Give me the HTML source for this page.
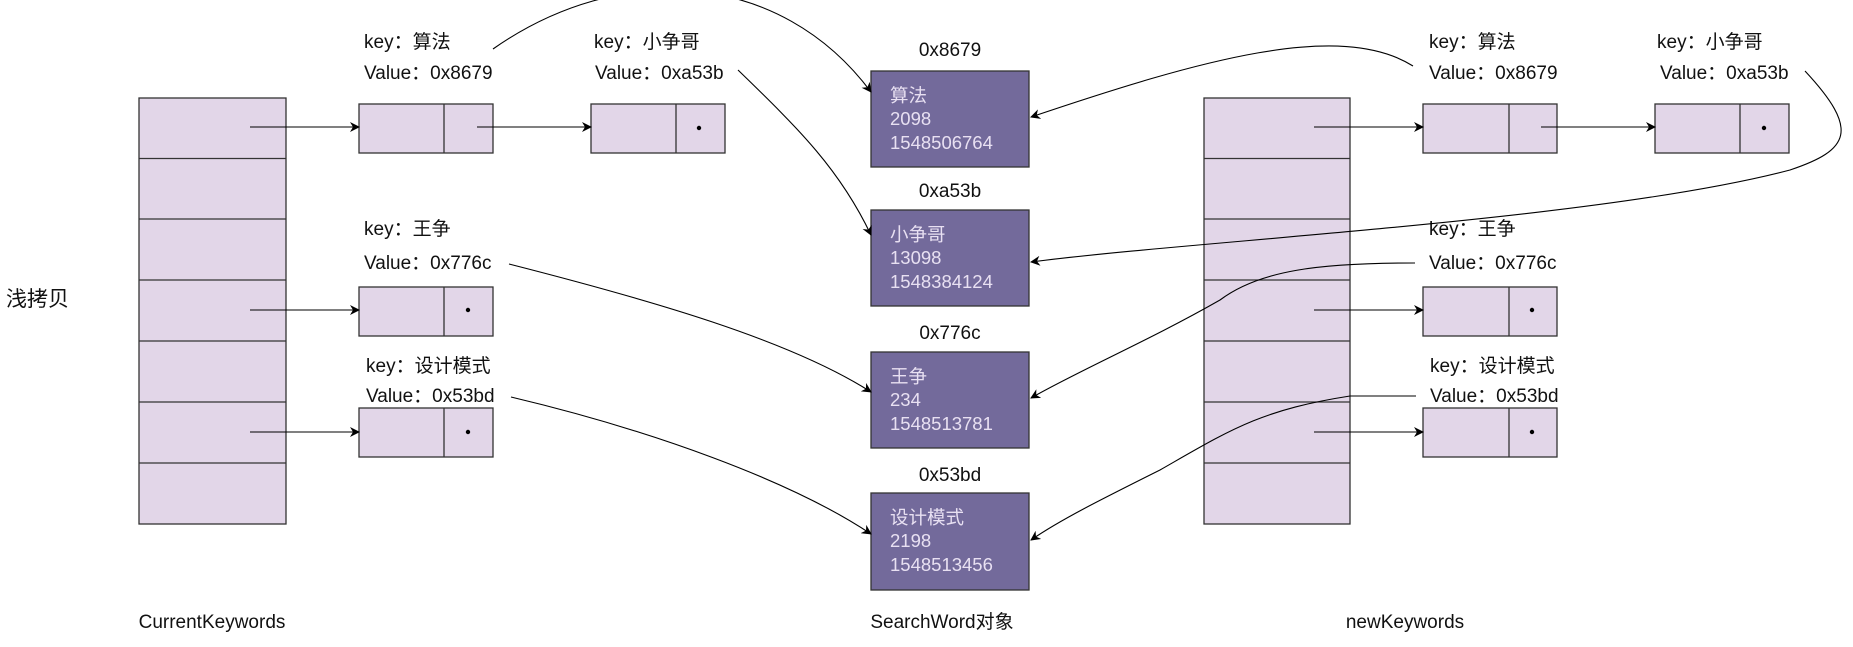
<!DOCTYPE html>
<html><head><meta charset="utf-8"><style>
html,body{margin:0;padding:0;background:#fff;}
svg{display:block;}
text{font-family:"Liberation Sans","Noto Sans CJK SC",sans-serif;font-size:19px;fill:#111;}
.w{fill:#e8e0f2;font-size:18.5px;}
</style></head><body>
<svg width="1853" height="647" viewBox="0 0 1853 647" xmlns="http://www.w3.org/2000/svg">
<defs><marker id="a" markerWidth="10" markerHeight="10" refX="9" refY="5" orient="auto" markerUnits="userSpaceOnUse"><path d="M0,0 L10,5 L0,10 L3,5 z" fill="#000"/></marker></defs>
<g fill="#e2d6e8" stroke="#333" stroke-width="1.3">
<rect x="139" y="98" width="147" height="426"/>
<rect x="1204" y="98" width="146" height="426"/>
<rect x="359" y="104" width="134" height="49"/><rect x="591" y="104" width="134" height="49"/>
<rect x="359" y="287" width="134" height="49"/><rect x="359" y="408" width="134" height="49"/>
<rect x="1423" y="104" width="134" height="49"/><rect x="1655" y="104" width="134" height="49"/>
<rect x="1423" y="287" width="134" height="49"/><rect x="1423" y="408" width="134" height="49"/>
</g>
<g stroke="#333" stroke-width="1.3">
<path d="M139 158.5H286M139 219H286M139 280H286M139 341H286M139 402H286M139 463H286"/>
<path d="M1204 158.5H1350M1204 219H1350M1204 280H1350M1204 341H1350M1204 402H1350M1204 463H1350"/>
<path d="M444 104V153M676 104V153M444 287V336M444 408V457M1509 104V153M1740 104V153M1509 287V336M1509 408V457"/>
</g>
<g fill="#000"><circle cx="699" cy="128" r="2.2"/><circle cx="468" cy="310" r="2.2"/><circle cx="468" cy="432" r="2.2"/><circle cx="1764" cy="128" r="2.2"/><circle cx="1532" cy="310" r="2.2"/><circle cx="1532" cy="432" r="2.2"/></g>
<g fill="#736a9b" stroke="#333" stroke-width="1.3">
<rect x="871" y="71" width="158" height="96"/><rect x="871" y="210" width="158" height="96"/>
<rect x="871" y="352" width="158" height="96"/><rect x="871" y="493" width="158" height="97"/>
</g>
<g>
<text class="w" x="890" y="102">算法</text><text class="w" x="890" y="125">2098</text><text class="w" x="890" y="149">1548506764</text>
<text class="w" x="890" y="241">小争哥</text><text class="w" x="890" y="264">13098</text><text class="w" x="890" y="288">1548384124</text>
<text class="w" x="890" y="383">王争</text><text class="w" x="890" y="406">234</text><text class="w" x="890" y="430">1548513781</text>
<text class="w" x="890" y="524">设计模式</text><text class="w" x="890" y="547">2198</text><text class="w" x="890" y="571">1548513456</text>
</g>
<g text-anchor="middle">
<text x="950" y="56">0x8679</text><text x="950" y="197">0xa53b</text><text x="950" y="339">0x776c</text><text x="950" y="481">0x53bd</text>
<text x="212" y="628">CurrentKeywords</text><text x="942" y="628">SearchWord对象</text><text x="1405" y="628">newKeywords</text>
</g>
<text x="6" y="306" style="font-size:21px">浅拷贝</text>
<text x="364" y="48">key：算法</text><text x="364" y="79">Value：0x8679</text>
<text x="594" y="48">key：小争哥</text><text x="595" y="79">Value：0xa53b</text>
<text x="364" y="235">key：王争</text><text x="364" y="269">Value：0x776c</text>
<text x="366" y="372">key：设计模式</text><text x="366" y="402">Value：0x53bd</text>
<text x="1429" y="48">key：算法</text><text x="1429" y="79">Value：0x8679</text>
<text x="1657" y="48">key：小争哥</text><text x="1660" y="79">Value：0xa53b</text>
<text x="1429" y="235">key：王争</text><text x="1429" y="269">Value：0x776c</text>
<text x="1430" y="372">key：设计模式</text><text x="1430" y="402">Value：0x53bd</text>
<g fill="none" stroke="#000" stroke-width="1.1" marker-end="url(#a)">
<path d="M250 127H359"/><path d="M477 127H591"/><path d="M250 310H359"/><path d="M250 432H359"/>
<path d="M1314 127H1423"/><path d="M1541 127H1655"/><path d="M1314 310H1423"/><path d="M1314 432H1423"/>
<path d="M493 49C620 -40 780 -30 871 92"/>
<path d="M738 70C800 130 840 170 871 235"/>
<path d="M509 264C650 300 790 340 871 392"/>
<path d="M511 397C650 430 790 480 871 534"/>
<path d="M1413 66C1340 20 1200 60 1031 117"/>
<path d="M1805 71C1860 130 1850 150 1790 170C1600 220 1200 240 1031 262"/>
<path d="M1415 263C1320 263 1260 270 1220 300C1150 340 1080 370 1031 398"/>
<path d="M1416 396H1350C1260 410 1230 430 1160 470C1100 500 1060 520 1031 540"/>
</g>
</svg>
</body></html>
